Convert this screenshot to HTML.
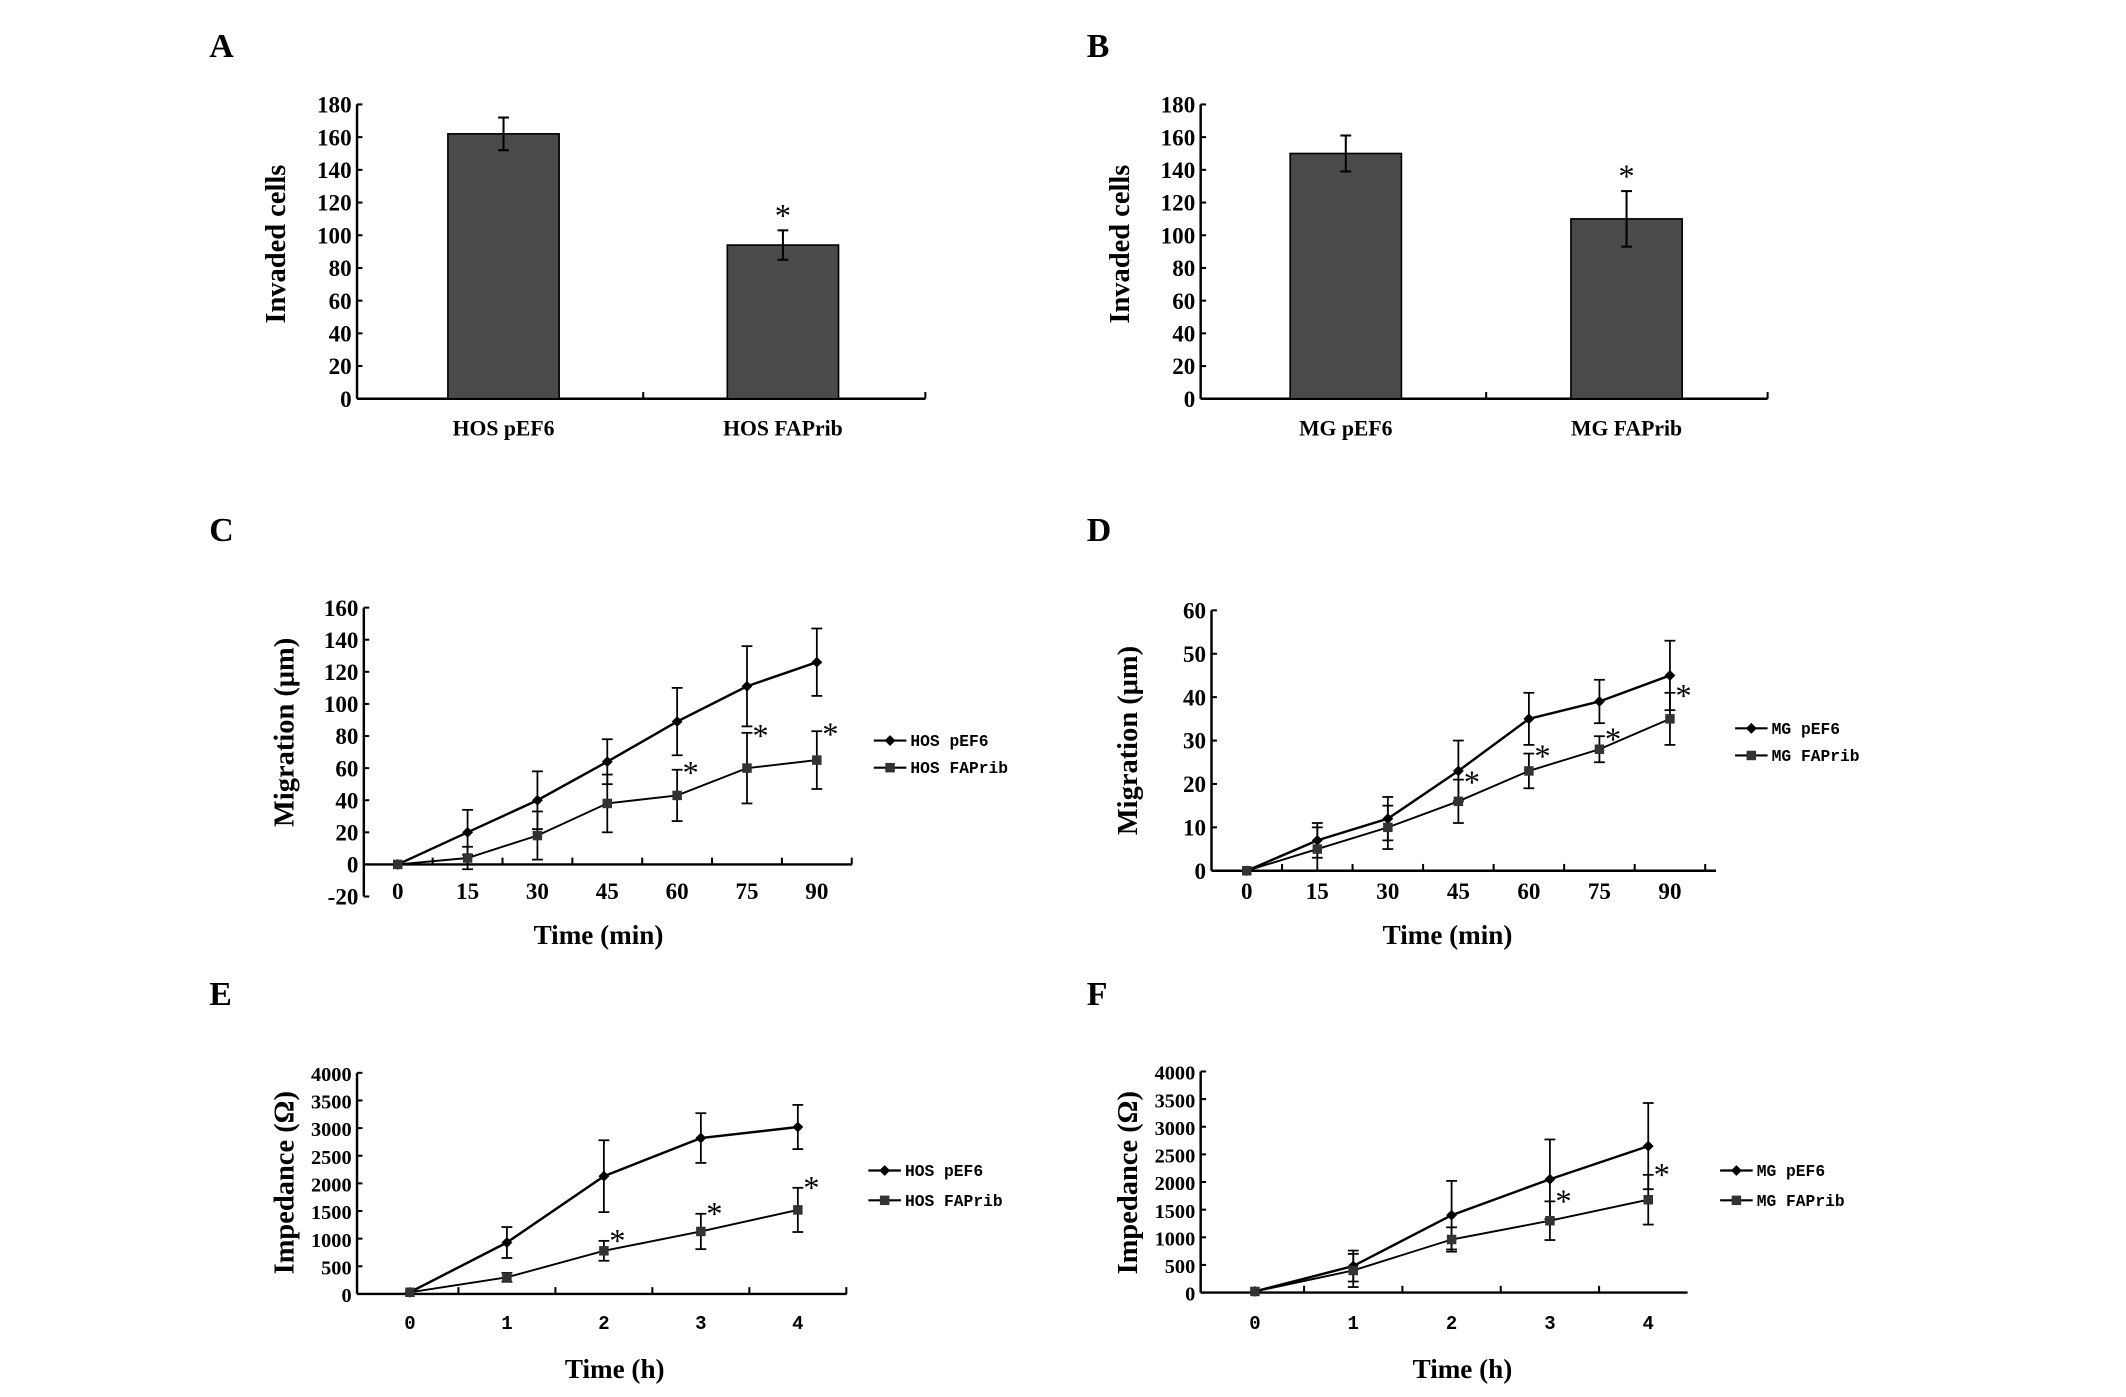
<!DOCTYPE html>
<html><head><meta charset="utf-8"><style>
html,body{margin:0;padding:0;background:#fff}
svg{display:block}
text{font-family:"Liberation Serif",serif;font-weight:bold;fill:#000}
.mono{font-family:"Liberation Mono",monospace;font-weight:bold}
.star{font-weight:normal}
</style></head><body>
<svg id="fig" xmlns="http://www.w3.org/2000/svg" width="2126" height="1397" viewBox="0 0 1567 1030"></svg>
<script>
// ---- Panel A/B data
const barCatsA = ["HOS pEF6","HOS FAPrib"];
const barValsA = [162, 94];
const barErrA = [10, 9];
const barCatsB = ["MG pEF6","MG FAPrib"];
const barValsB = [150, 110];
const barErrB = [11, 17];
const barTicks = [0,20,40,60,80,100,120,140,160,180];
// ---- Panel C/D data
const timeMin = [0,15,30,45,60,75,90];
const cPef6 = [0,20,40,64,89,111,126];
const cPef6Err = [0,14,18,14,21,25,21];
const cFap = [0,4,18,38,43,60,65];
const cFapErr = [0,7,15,18,16,22,18];
const cStars = [60,75,90];
const cTicks = [-20,0,20,40,60,80,100,120,140,160];
const dPef6 = [0,7,12,23,35,39,45];
const dPef6Err = [0,4,5,7,6,5,8];
const dFap = [0,5,10,16,23,28,35];
const dFapErr = [0,5,5,5,4,3,6];
const dStars = [45,60,75,90];
const dTicks = [0,10,20,30,40,50,60];
// ---- Panel E/F data
const timeH = [0,1,2,3,4];
const ePef6 = [30,930,2130,2820,3020];
const ePef6Err = [0,280,650,450,400];
const eFap = [30,300,780,1130,1520];
const eFapErr = [0,80,180,320,400];
const eStars = [2,3,4];
const fPef6 = [20,480,1400,2050,2650];
const fPef6Err = [0,280,620,720,780];
const fFap = [20,400,960,1300,1680];
const fFapErr = [0,300,220,350,450];
const fStars = [3,4];
const impTicks = [0,500,1000,1500,2000,2500,3000,3500,4000];

const NS="http://www.w3.org/2000/svg";
const svg=document.getElementById('fig');
function mk(tag,attrs,parent,txt){const e=document.createElementNS(NS,tag);for(const k in attrs)e.setAttribute(k,attrs[k]);if(txt!==undefined)e.textContent=txt;(parent||svg).appendChild(e);return e;}
function line(g,x1,y1,x2,y2,w){return mk('line',{x1,y1,x2,y2,stroke:'#000','stroke-width':w||1.5},g);}

function panelLetter(ch,x,y){const t=mk('text',{x,y,'font-size':25},svg,ch);

}

function yAxis(g,ax,yScale,ticks,fs){
  const top=yScale(ticks[ticks.length-1]),bot=yScale(ticks[0]);
  const a=line(g,ax,top,ax,bot,1.8);
  
  
  ticks.forEach(v=>{const y=yScale(v);line(g,ax,y,ax+4,y,1.5);
    const t=mk('text',{x:ax-4,y:y+6,'text-anchor':'end','font-size':fs},g,String(v));
    
    });
}
function yTitle(g,x,y,txt,fs){const t=mk('text',{x:0,y:0,'text-anchor':'middle','font-size':fs,transform:`translate(${x},${y}) rotate(-90)`},g,txt);

}
function xTitle(g,x,y,txt,fs){const t=mk('text',{x,y,'text-anchor':'middle','font-size':fs},g,txt);

}

function barPanel(name,ax,axR,cats,vals,errs,catX,barW,titleX,starIdx){
  const g=mk('g',{});
  
  
  const y0=294,yT=77;const ys=v=>y0-(v/180)*(y0-yT);
  yAxis(g,ax,ys,barTicks,17);
  const xa=line(g,ax,y0,axR,y0,1.8);
  
  
  line(g,(catX[0]+catX[1])/2,y0,(catX[0]+catX[1])/2,y0-5);line(g,axR,y0,axR,y0-5);
  cats.forEach((c,i)=>{
    const r=mk('rect',{x:catX[i]-barW/2,y:ys(vals[i]),width:barW,height:y0-ys(vals[i]),fill:'#4a4a4a',stroke:'#000','stroke-width':1.2},g);
    
    
    const e1=ys(vals[i]+errs[i]),e2=ys(vals[i]-errs[i]);
    line(g,catX[i],e1,catX[i],e2,1.5);line(g,catX[i]-4,e1,catX[i]+4,e1,1.5);line(g,catX[i]-4,e2,catX[i]+4,e2,1.5);
    const t=mk('text',{x:catX[i],y:321,'text-anchor':'middle','font-size':16},g,c);
    
    
  });
  const s=mk('text',{x:catX[starIdx],y:ys(vals[starIdx]+errs[starIdx])-3,'text-anchor':'middle','font-size':24,class:'star'},g,'*');
  
  
  yTitle(g,titleX,180,'Invaded cells',21);
}
barPanel('panel-a-chart',263,682,barCatsA,barValsA,barErrA,[371,577],82,210,1);
barPanel('panel-b-chart',885,1303,barCatsB,barValsB,barErrB,[992,1199],82,832,1);

function lineMarker(g,x,y,type){
  if(type==='d'){mk('polygon',{points:`${x},${y-4} ${x+4},${y} ${x},${y+4} ${x-4},${y}`,fill:'#000'},g);}
  else mk('rect',{x:x-3.5,y:y-3.5,width:7,height:7,fill:'#333'},g);
}
function linePanel(o){
  const g=mk('g',{});
  
  
  const ys=v=>o.y0-(v-o.t[0])/(o.t[o.t.length-1]-o.t[0])*(o.y0-o.yTop);
  const xs=v=>o.x0+(v-o.xs[0])/(o.xs[o.xs.length-1]-o.xs[0])*(o.x1-o.x0);
  yAxis(g,o.ax,ys,o.t,o.fs);
  const yz=ys(0);
  const xa=line(g,o.ax,yz,o.axR,yz,1.8);
  
  
  const step=(o.x1-o.x0)/(o.xs.length-1);
  for(let x=o.x0+step/2;x<=o.axR+1;x+=step)line(g,x,yz,x,yz-5,1.5);
  o.xs.forEach(v=>{const t=mk('text',{x:xs(v),y:o.xlY,'text-anchor':'middle','font-size':o.xfs||17,class:o.xmono?'mono':''},g,String(v));
    
    });
  o.series.forEach((s,si)=>{
    const pts=s.v.map((v,i)=>xs(o.xs[i])+','+ys(v)).join(' ');
    const p=mk('polyline',{points:pts,fill:'none',stroke:'#000','stroke-width':si===0?1.8:1.4},g);
    
    
    s.v.forEach((v,i)=>{const x=xs(o.xs[i]);
      if(s.e[i]>0){const a=ys(v+s.e[i]),b=ys(v-s.e[i]);line(g,x,a,x,b,1.3);line(g,x-4,a,x+4,a,1.3);line(g,x-4,b,x+4,b,1.3);}
      lineMarker(g,x,ys(v),s.m);});
    const ly=o.legY[si];
    line(g,o.legX,ly,o.legX+24,ly,1.6);lineMarker(g,o.legX+12,ly,s.m);
    const lt=mk('text',{x:o.legX+27,y:ly+4,'font-size':12,class:'mono'},g,s.label);
    
    
  });
  const f=o.series[1];
  o.stars.forEach(sv=>{const i=o.xs.indexOf(sv);const x=xs(sv)+10;const y=ys(f.v[i]+f.e[i])+o.starDy;
    const s=mk('text',{x,y,'text-anchor':'middle','font-size':24,class:'star'},g,'*');
    
    });
  yTitle(g,o.ytX,o.ytY,o.yTitle,21);
  xTitle(g,o.xtX,o.xtY,o.xTitle,20);
}
linePanel({name:'panel-c-chart',ax:268,axR:628,x0:293,x1:602,xs:timeMin,t:cTicks,y0:661,yTop:448,fs:17,xlY:663,
 series:[{key:'hos-pef6',label:'HOS pEF6',v:cPef6,e:cPef6Err,m:'d'},{key:'hos-faprib',label:'HOS FAPrib',v:cFap,e:cFapErr,m:'s'}],
 legX:644,legY:[546,566],stars:cStars,starDy:10,ytX:216,ytY:540,yTitle:'Migration (μm)',xtX:441,xtY:696,xTitle:'Time (min)'});
linePanel({name:'panel-d-chart',ax:893,axR:1265,x0:919,x1:1231,xs:timeMin,t:dTicks,y0:642,yTop:450,fs:17,xlY:663,
 series:[{key:'mg-pef6',label:'MG pEF6',v:dPef6,e:dPef6Err,m:'d'},{key:'mg-faprib',label:'MG FAPrib',v:dFap,e:dFapErr,m:'s'}],
 legX:1279,legY:[537,557],stars:dStars,starDy:10,ytX:838,ytY:546,yTitle:'Migration (μm)',xtX:1067,xtY:696,xTitle:'Time (min)'});
linePanel({name:'panel-e-chart',ax:263,axR:624,x0:302,x1:588,xs:timeH,t:impTicks,y0:954,yTop:791,fs:15,xlY:980,xmono:true,xfs:14,
 series:[{key:'hos-pef6',label:'HOS pEF6',v:ePef6,e:ePef6Err,m:'d'},{key:'hos-faprib',label:'HOS FAPrib',v:eFap,e:eFapErr,m:'s'}],
 legX:640,legY:[863,885],stars:eStars,starDy:8,ytX:216,ytY:872,yTitle:'Impedance (Ω)',xtX:453,xtY:1016,xTitle:'Time (h)'});
linePanel({name:'panel-f-chart',ax:885,axR:1244,x0:925,x1:1215,xs:timeH,t:impTicks,y0:953,yTop:790,fs:15,xlY:980,xmono:true,xfs:14,
 series:[{key:'mg-pef6',label:'MG pEF6',v:fPef6,e:fPef6Err,m:'d'},{key:'mg-faprib',label:'MG FAPrib',v:fFap,e:fFapErr,m:'s'}],
 legX:1268,legY:[863,885],stars:fStars,starDy:8,ytX:838,ytY:872,yTitle:'Impedance (Ω)',xtX:1078,xtY:1016,xTitle:'Time (h)'});

panelLetter('A',154,42);panelLetter('B',801,42);
panelLetter('C',154,399);panelLetter('D',801,399);
panelLetter('E',154,741);panelLetter('F',801,741);
</script>
</body></html>
